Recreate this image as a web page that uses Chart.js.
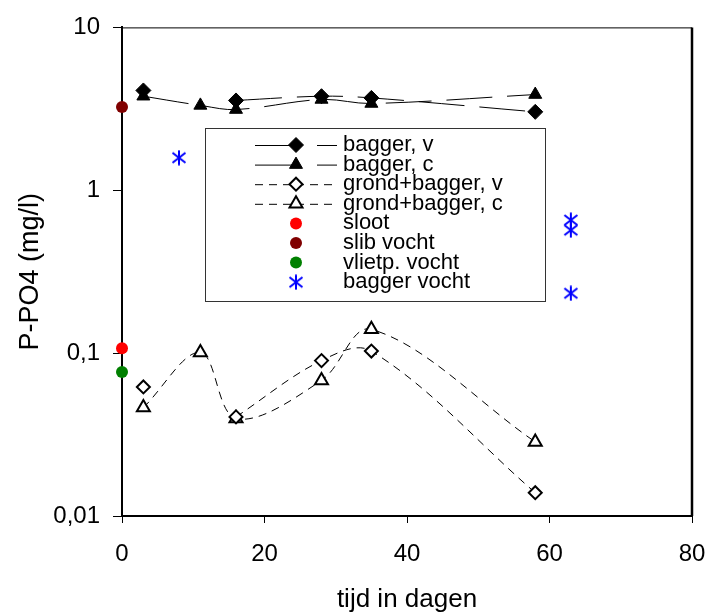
<!DOCTYPE html>
<html>
<head>
<meta charset="utf-8">
<title>P-PO4</title>
<script src="https://cdn.jsdelivr.net/npm/chart.js@4/dist/chart.umd.min.js"></script>
<style>
  html, body { margin: 0; padding: 0; background: #fff; }
  canvas { display: block; }
</style>
</head>
<body>
<canvas id="grafiek" width="709" height="613"></canvas>
<script>
// meetdagen
const dagen = [3, 11, 16, 28, 35, 58];

// P-PO4 in mg/l per reeks (null = geen meting)
const baggerV = [4.1, null, 3.56, 3.78, 3.69, 3.03];
const baggerC = [3.78, 3.32, 3.13, 3.61, 3.41, 3.87];
const grondBaggerV = [0.062, null, 0.0406, 0.090, 0.103, 0.0139];
const grondBaggerC = [0.0463, 0.101, 0.0397, 0.068, 0.140, 0.0285];

// losse metingen op dag 0
const slootWaarde = [0.107];
const slibVocht = [3.24];
const vlietpVocht = [0.0765];

// bagger vocht
const baggerVochtDag = [8, 63, 63, 63];
const baggerVochtWaarde = [1.585, 0.656, 0.569, 0.233];

// as-labels
const yTicks = [0.01, 0.1, 1, 10];
const yLabels = ['0,01', '0,1', '1', '10'];
const xTicks = [0, 20, 40, 60, 80];

function punten(xs, ys) {
    return xs.map((x, i) => ({ x: x, y: ys[i] }));
}

// sterretje (verticale streep + kruis) voor bagger vocht
const ster = document.createElement('canvas');
ster.width = 16;
ster.height = 16;
(function() {
    const c = ster.getContext('2d');
    c.strokeStyle = '#0000ff';
    c.lineWidth = 2;
    c.beginPath();
    c.moveTo(8, 0.5); c.lineTo(8, 15.5);
    c.moveTo(1.5, 3); c.lineTo(14.5, 13);
    c.moveTo(1.5, 13); c.lineTo(14.5, 3);
    c.stroke();
})();

Chart.defaults.font.family = "'Liberation Sans', Arial, sans-serif";
Chart.defaults.color = '#000';

const datasets = [
    {
        label: 'bagger, v',
        data: punten(dagen, baggerV),
        borderColor: '#000', borderWidth: 1, borderDash: [46, 15],
        pointStyle: 'rectRot', pointRadius: 7.5, pointBackgroundColor: '#000', pointBorderColor: '#000', pointBorderWidth: 1,
        legendDash: []
    },
    {
        label: 'bagger, c',
        data: punten(dagen, baggerC),
        borderColor: '#000', borderWidth: 1, borderDash: [46, 15],
        pointStyle: 'triangle', pointRadius: 7.5, pointBackgroundColor: '#000', pointBorderColor: '#000', pointBorderWidth: 1,
        legendDash: []
    },
    {
        label: 'grond+bagger, v',
        data: punten(dagen, grondBaggerV),
        borderColor: '#000', borderWidth: 1, borderDash: [8, 6],
        pointStyle: 'rectRot', pointRadius: 6.5, pointBackgroundColor: '#fff', pointBorderColor: '#000', pointBorderWidth: 2,
        legendDash: [8, 6]
    },
    {
        label: 'grond+bagger, c',
        data: punten(dagen, grondBaggerC),
        borderColor: '#000', borderWidth: 1, borderDash: [8, 6],
        pointStyle: 'triangle', pointRadius: 7.5, pointBackgroundColor: '#fff', pointBorderColor: '#000', pointBorderWidth: 2,
        legendDash: [8, 6]
    },
    {
        label: 'sloot',
        data: punten([0], slootWaarde),
        showLine: false,
        pointStyle: 'circle', pointRadius: 6, pointBackgroundColor: '#ff0000', pointBorderColor: '#ff0000', pointBorderWidth: 0
    },
    {
        label: 'slib vocht',
        data: punten([0], slibVocht),
        showLine: false,
        pointStyle: 'circle', pointRadius: 6, pointBackgroundColor: '#800000', pointBorderColor: '#800000', pointBorderWidth: 0
    },
    {
        label: 'vlietp. vocht',
        data: punten([0], vlietpVocht),
        showLine: false,
        pointStyle: 'circle', pointRadius: 6, pointBackgroundColor: '#008000', pointBorderColor: '#008000', pointBorderWidth: 0
    },
    {
        label: 'bagger vocht',
        data: punten(baggerVochtDag, baggerVochtWaarde),
        showLine: false,
        pointStyle: ster, pointRadius: 8
    }
];

datasets.forEach(ds => {
    ds.tension = 0.35;
    ds.spanGaps = false;
    ds.clip = false;
    ds.pointHoverRadius = ds.pointRadius;
});

// rand om het plotgebied (boven dun, rechts dik)
const kader = {
    id: 'kader',
    beforeDatasetsDraw(chart) {
        const { ctx, chartArea: a } = chart;
        ctx.save();
        ctx.strokeStyle = '#000';
        ctx.lineWidth = 1;
        ctx.beginPath();
        ctx.moveTo(a.left, a.top + 0.5);
        ctx.lineTo(a.right, a.top + 0.5);
        ctx.stroke();
        ctx.lineWidth = 2.5;
        ctx.beginPath();
        ctx.moveTo(a.right, a.top);
        ctx.lineTo(a.right, a.bottom);
        ctx.stroke();
        ctx.restore();
    }
};

// legenda als kader binnen de grafiek
const legenda = {
    id: 'legenda',
    afterDraw(chart) {
        const ctx = chart.ctx;
        const box = { x: 205.5, y: 128.5, w: 340, h: 173 };
        ctx.save();
        ctx.fillStyle = '#fff';
        ctx.fillRect(box.x, box.y, box.w, box.h);
        ctx.strokeStyle = '#333';
        ctx.lineWidth = 1;
        ctx.strokeRect(box.x, box.y, box.w, box.h);

        chart.data.datasets.forEach((ds, i) => {
            const y = 145 + i * 19.6;
            const mx = 296;
            if (ds.showLine !== false) {
                ctx.strokeStyle = '#000';
                ctx.lineWidth = 1;
                ctx.setLineDash(ds.legendDash);
                ctx.beginPath();
                ctx.moveTo(255, y + 0.5);
                ctx.lineTo(mx, y + 0.5);
                ctx.moveTo(ds.legendDash.length ? mx : 317, y + 0.5);
                ctx.lineTo(337, y + 0.5);
                ctx.stroke();
                ctx.setLineDash([]);
            }
            ctx.fillStyle = ds.pointBackgroundColor || '#000';
            ctx.strokeStyle = ds.pointBorderColor || '#000';
            ctx.lineWidth = ds.pointBorderWidth || 0;
            Chart.helpers.drawPoint(ctx, {
                pointStyle: ds.pointStyle,
                radius: ds.pointRadius,
                borderWidth: ds.pointBorderWidth || 0,
                rotation: 0
            }, mx, y);

            ctx.fillStyle = '#000';
            ctx.font = "22px 'Liberation Sans', Arial, sans-serif";
            ctx.textBaseline = 'middle';
            ctx.textAlign = 'left';
            ctx.fillText(ds.label, 343, y);
        });
        ctx.restore();
    }
};

new Chart(document.getElementById('grafiek'), {
    type: 'line',
    data: { datasets: datasets },
    plugins: [kader, legenda],
    options: {
        responsive: false,
        animation: false,
        layout: { padding: { top: 26, right: 17, left: 0, bottom: 0 } },
        plugins: {
            legend: { display: false },
            tooltip: { enabled: false }
        },
        scales: {
            x: {
                type: 'linear',
                min: 0,
                max: 80,
                afterFit(scale) {
                    scale.height = 97;
                    scale.paddingLeft = 0;
                    scale.paddingRight = 0;
                },
                afterBuildTicks(scale) { scale.ticks = xTicks.map(v => ({ value: v })); },
                ticks: { font: { size: 24 }, padding: 17, maxRotation: 0 },
                grid: { drawOnChartArea: false, drawTicks: true, tickLength: 7, color: '#000', lineWidth: 1 },
                border: { display: true, color: '#000', width: 2 },
                title: { display: true, text: 'tijd in dagen', font: { size: 26, lineHeight: 1.0 }, padding: { top: 0, bottom: 0 } }
            },
            y: {
                type: 'logarithmic',
                min: 0.01,
                max: 10,
                afterFit(scale) { scale.width = 122; },
                afterBuildTicks(scale) { scale.ticks = yTicks.map(v => ({ value: v })); },
                ticks: {
                    font: { size: 24 },
                    padding: 13,
                    callback: function(value) {
                        const i = yTicks.findIndex(t => Math.abs(t - value) < t * 1e-6);
                        return i >= 0 ? yLabels[i] : '';
                    }
                },
                grid: { drawOnChartArea: false, drawTicks: true, tickLength: 9, color: '#000', lineWidth: 1 },
                border: { display: true, color: '#000', width: 2 },
                title: { display: true, text: 'P-PO4 (mg/l)', font: { size: 27, lineHeight: 1.2 }, padding: { top: 14, bottom: 0 } }
            }
        }
    }
});
</script>
</body>
</html>
